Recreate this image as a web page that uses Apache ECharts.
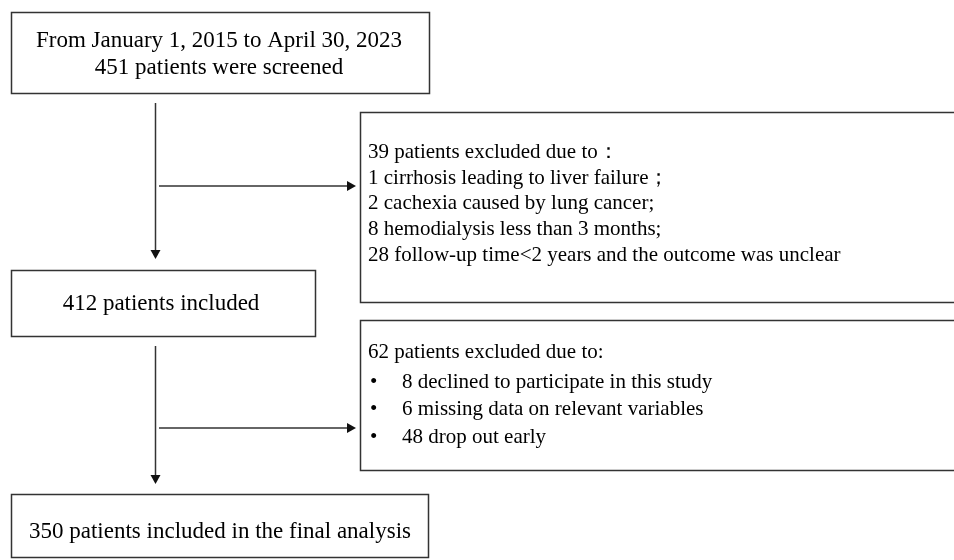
<!DOCTYPE html>
<html>
<head>
<meta charset="utf-8">
<script src="https://cdn.jsdelivr.net/npm/echarts@6/dist/echarts.min.js"></script>
<style>
  html, body { margin: 0; padding: 0; background: #fff; }
  #main { width: 954px; height: 560px; }
</style>
</head>
<body>
<div id="main"></div>
<script>
// flow chart data
var periodText = 'From January 1, 2015 to April 30, 2023';
var stageCounts = [451, 412, 350];
var stageLabels = ['patients were screened', 'patients included', 'patients included in the final analysis'];

var excludedTotals = [39, 62];
var excludedHeads = ['patients excluded due to：', 'patients excluded due to:'];

var excl1Counts = [1, 2, 8, 28];
var excl1Reasons = [
  'cirrhosis leading to liver failure；',
  'cachexia caused by lung cancer;',
  'hemodialysis less than 3 months;',
  'follow-up time<2 years and the outcome was unclear'
];

var excl2Counts = [8, 6, 48];
var excl2Reasons = [
  'declined to participate in this study',
  'missing data on relevant variables',
  'drop out early'
];

var chart = echarts.init(document.getElementById('main'));

var FONT_BIG = '23px "Liberation Serif", "Times New Roman", serif';
var FONT_SMALL = '21px "Liberation Serif", "Times New Roman", serif';
var LINE = '#333';

function box(x, y, w, h) {
  return {
    type: 'rect',
    shape: { x: x, y: y, width: w, height: h },
    style: { fill: '#fff', stroke: LINE, lineWidth: 1.5 }
  };
}

function txt(s, x, y, align, font) {
  return {
    type: 'text',
    style: {
      text: s, x: x, y: y, font: font || FONT_SMALL, fill: '#000',
      textAlign: align || 'left', textVerticalAlign: 'middle'
    }
  };
}

function arrow(x1, y1, x2, y2) {
  var els = [];
  var a = 9, b = 5;
  var pts;
  if (x1 === x2) {
    // vertical, pointing down
    pts = [[x2 - b, y2 - a], [x2 + b, y2 - a], [x2, y2]];
    els.push({ type: 'line', shape: { x1: x1, y1: y1, x2: x2, y2: y2 - a }, style: { stroke: LINE, lineWidth: 1.5 } });
  } else {
    pts = [[x2 - a, y2 - b], [x2 - a, y2 + b], [x2, y2]];
    els.push({ type: 'line', shape: { x1: x1, y1: y1, x2: x2 - a, y2: y2 }, style: { stroke: LINE, lineWidth: 1.5 } });
  }
  els.push({ type: 'polygon', shape: { points: pts }, style: { fill: '#111' } });
  return els;
}

var g = [];

// box 1
g.push(box(11.5, 12.5, 418, 81));
g.push(txt(periodText, 219, 41, 'center', FONT_BIG));
g.push(txt(stageCounts[0] + ' ' + stageLabels[0], 219, 68, 'center', FONT_BIG));

// arrows 1
g = g.concat(arrow(155.5, 103, 155.5, 259));
g = g.concat(arrow(159, 186, 356, 186));

// exclusion box 1
g.push(box(360.5, 112.5, 600, 190));
g.push(txt(excludedTotals[0] + ' ' + excludedHeads[0], 368, 152));
excl1Counts.forEach(function (c, i) {
  g.push(txt(c + ' ' + excl1Reasons[i], 368, 178 + i * 25.7));
});

// box 2
g.push(box(11.5, 270.5, 304, 66));
g.push(txt(stageCounts[1] + ' ' + stageLabels[1], 161, 304, 'center', FONT_BIG));

// arrows 2
g = g.concat(arrow(155.5, 346, 155.5, 484));
g = g.concat(arrow(159, 428, 356, 428));

// exclusion box 2
g.push(box(360.5, 320.5, 600, 150));
g.push(txt(excludedTotals[1] + ' ' + excludedHeads[1], 368, 352));
excl2Counts.forEach(function (c, i) {
  g.push(txt('•', 370, 382 + i * 27.5));
  g.push(txt(c + ' ' + excl2Reasons[i], 402, 382 + i * 27.5));
});

// box 3
g.push(box(11.5, 494.5, 417, 63));
g.push(txt(stageCounts[2] + ' ' + stageLabels[2], 220, 532, 'center', FONT_BIG));

chart.setOption({
  backgroundColor: '#fff',
  animation: false,
  graphic: { elements: g }
});
</script>
</body>
</html>
